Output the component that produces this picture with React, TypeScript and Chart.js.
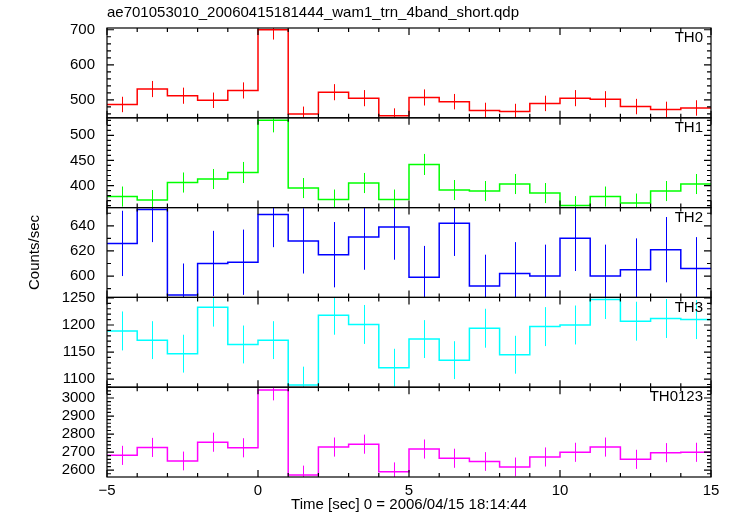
import { useEffect, useRef } from 'react';
import { Chart, registerables } from 'chart.js';

Chart.register(...registerables);

const TITLE = 'ae701053010_20060415181444_wam1_trn_4band_short.qdp';
const X_TITLE = 'Time [sec] 0 = 2006/04/15 18:14:44';
const Y_TITLE = 'Counts/sec';

const BIN_START = [-5, -4, -3, -2, -1, 0, 1, 2, 3, 4, 5, 6, 7, 8, 9, 10, 11, 12, 13, 14];
const BIN_WIDTH = 1;
const X_MIN = -5;
const X_MAX = 15;
const X_TICKS = [-5, 0, 5, 10, 15];

const TH0 = [487, 531, 512, 499, 527, 700, 460, 522, 505, 455, 507, 495, 470, 467, 490, 505, 502, 481, 473, 477];
const TH0_ERR = [22, 23, 23, 22, 23, 28, 21, 23, 23, 21, 23, 22, 22, 22, 22, 23, 23, 22, 22, 22];
const TH1 = [378, 371, 406, 413, 426, 530, 395, 372, 405, 372, 442, 391, 389, 403, 385, 360, 378, 365, 389, 403];
const TH1_ERR = [20, 20, 20, 20, 21, 24, 20, 20, 20, 20, 21, 20, 20, 20, 20, 19, 20, 19, 20, 20];
const TH2 = [626, 653, 585, 610, 611, 649, 628, 617, 631, 639, 599, 642, 592, 602, 600, 630, 600, 605, 621, 606];
const TH2_ERR = [26, 26, 25, 26, 26, 26, 26, 26, 26, 26, 25, 26, 25, 25, 25, 26, 25, 25, 26, 25];
const TH3 = [1189, 1172, 1147, 1233, 1164, 1172, 1089, 1218, 1201, 1121, 1174, 1135, 1194, 1145, 1197, 1200, 1247, 1207, 1212, 1210];
const TH3_ERR = [36, 35, 35, 36, 35, 35, 34, 36, 36, 35, 35, 35, 36, 35, 36, 36, 36, 36, 36, 36];
const TH0123 = [2682, 2726, 2651, 2755, 2724, 3044, 2573, 2728, 2744, 2591, 2717, 2666, 2648, 2618, 2673, 2699, 2728, 2660, 2697, 2699];
const TH0123_ERR = [53, 53, 52, 53, 53, 57, 52, 53, 53, 52, 53, 53, 52, 52, 53, 53, 53, 53, 53, 53];

const PANEL_NAMES = ['TH0', 'TH1', 'TH2', 'TH3', 'TH0123'];
const PANEL_VALUES = [TH0, TH1, TH2, TH3, TH0123];
const PANEL_ERRORS = [TH0_ERR, TH1_ERR, TH2_ERR, TH3_ERR, TH0123_ERR];
const PANEL_COLORS = ['#ff0000', '#00ff00', '#0000ff', '#00ffff', '#ff00ff'];
const TH0_TICKS = [500, 600, 700];
const TH1_TICKS = [400, 450, 500];
const TH2_TICKS = [600, 620, 640];
const TH3_TICKS = [1100, 1150, 1200, 1250];
const TH0123_TICKS = [2600, 2700, 2800, 2900, 3000];
const PANEL_TICKS = [TH0_TICKS, TH1_TICKS, TH2_TICKS, TH3_TICKS, TH0123_TICKS];
const Y_MIN = [449, 356, 583, 1085, 2562];
const Y_MAX = [705, 535, 654.5, 1251, 3060];
const MINOR_STEP = [20, 10, 10, 10, 20];

const FONT = { family: "'Liberation Sans', Arial, Helvetica, sans-serif", size: 15 };
const FONT_CSS = "15px 'Liberation Sans', Arial, Helvetica, sans-serif";

const overlay = {
  id: 'qdpOverlay',
  afterDatasetsDraw(chart: any) {
    const { ctx, chartArea } = chart;
    const xs = chart.scales.x;
    const L = chartArea.left;
    const R = chartArea.right;
    PANEL_NAMES.forEach((name, k) => {
      const ys = chart.scales['y' + k];
      const top = ys.top;
      const bot = ys.bottom;
      const vals = PANEL_VALUES[k];
      const errs = PANEL_ERRORS[k];
      // error bars
      ctx.save();
      ctx.beginPath();
      ctx.rect(L, top, R - L, bot - top);
      ctx.clip();
      ctx.strokeStyle = PANEL_COLORS[k];
      ctx.lineWidth = 1;
      vals.forEach((v, i) => {
        const cx = Math.round(xs.getPixelForValue(BIN_START[i] + BIN_WIDTH / 2)) + 0.5;
        ctx.beginPath();
        ctx.moveTo(cx, ys.getPixelForValue(v - errs[i]));
        ctx.lineTo(cx, ys.getPixelForValue(v + errs[i]));
        ctx.stroke();
      });
      ctx.restore();

      // frame and ticks
      ctx.save();
      ctx.strokeStyle = '#000';
      ctx.lineWidth = 1.2;
      ctx.strokeRect(L, top, R - L, bot - top);
      ctx.beginPath();
      for (let x = X_MIN; x <= X_MAX; x += 1) {
        const px = xs.getPixelForValue(x);
        const len = x % 5 === 0 ? 7 : 4;
        ctx.moveTo(px, top);
        ctx.lineTo(px, top + len);
        ctx.moveTo(px, bot);
        ctx.lineTo(px, bot - len);
      }
      const step = MINOR_STEP[k];
      const majors = PANEL_TICKS[k];
      for (let v = Math.ceil(Y_MIN[k] / step) * step; v <= Y_MAX[k]; v += step) {
        const py = ys.getPixelForValue(v);
        const len = majors.includes(v) ? 7 : 4;
        ctx.moveTo(L, py);
        ctx.lineTo(L + len, py);
        ctx.moveTo(R, py);
        ctx.lineTo(R - len, py);
      }
      ctx.stroke();
      ctx.fillStyle = '#000';
      ctx.font = FONT_CSS;
      ctx.textAlign = 'right';
      ctx.textBaseline = 'middle';
      ctx.fillText(name, R - 8, top + 10);
      ctx.restore();
    });

    ctx.save();
    ctx.fillStyle = '#000';
    ctx.font = FONT_CSS;
    ctx.textAlign = 'left';
    ctx.textBaseline = 'middle';
    ctx.fillText(TITLE, L, 13);
    ctx.translate(35, (chartArea.top + chartArea.bottom) / 2);
    ctx.rotate(-Math.PI / 2);
    ctx.textAlign = 'center';
    ctx.fillText(Y_TITLE, 0, 0);
    ctx.restore();
  },
};

export default function App() {
  const ref = useRef<HTMLCanvasElement>(null);
  useEffect(() => {
    if (!ref.current) return;
    const datasets = PANEL_VALUES.map((vals, k) => ({
      label: PANEL_NAMES[k],
      yAxisID: 'y' + k,
      data: BIN_START.map((x, i) => ({ x, y: vals[i] })).concat([
        { x: BIN_START[BIN_START.length - 1] + BIN_WIDTH, y: vals[vals.length - 1] },
      ]),
      borderColor: PANEL_COLORS[k],
      borderWidth: 1.5,
      pointRadius: 0,
      stepped: 'before' as const,
      fill: false,
    }));
    const scales: any = {
      x: {
        type: 'linear',
        position: 'bottom',
        min: X_MIN,
        max: X_MAX,
        grid: { display: false, drawTicks: false },
        border: { display: false },
        ticks: {
          padding: 5,
          maxRotation: 0,
          autoSkip: false,
          color: '#000',
          font: FONT,
          callback: (v: number) => (v < 0 ? '\u2212' + Math.abs(v) : String(v)),
        },
        afterBuildTicks: (s: any) => {
          s.ticks = X_TICKS.map((value) => ({ value }));
        },
        title: { display: true, text: X_TITLE, padding: 0, color: '#000', font: FONT },
        afterFit: (s: any) => {
          s.height = 37;
        },
      },
    };
    PANEL_NAMES.forEach((_, k) => {
      scales['y' + k] = {
        type: 'linear',
        position: 'left',
        stack: 'panels',
        stackWeight: 1,
        weight: 10 - k,
        min: Y_MIN[k],
        max: Y_MAX[k],
        grid: { display: false, drawTicks: false },
        border: { display: false },
        ticks: {
          padding: 12,
          color: '#000',
          font: FONT,
          autoSkip: false,
          callback: (v: number) => String(v),
        },
        afterBuildTicks: (s: any) => {
          s.ticks = PANEL_TICKS[k].map((value) => ({ value }));
        },
        afterFit: (s: any) => {
          s.width = 107;
        },
      };
    });
    const chart = new Chart(ref.current, {
      type: 'line',
      data: { datasets },
      options: {
        responsive: false,
        animation: false,
        devicePixelRatio: 1,
        layout: { padding: { left: 0, top: 28, right: 22, bottom: 2 } },
        plugins: { legend: { display: false }, tooltip: { enabled: false }, title: { display: false } },
        scales,
      },
      plugins: [overlay],
    } as any);
    return () => chart.destroy();
  }, []);
  return (
    <div style={{ position: 'fixed', left: 0, top: 0, width: 733, height: 516, background: '#fff' }}>
      <canvas ref={ref} width={733} height={516} style={{ display: 'block' }} />
    </div>
  );
}
